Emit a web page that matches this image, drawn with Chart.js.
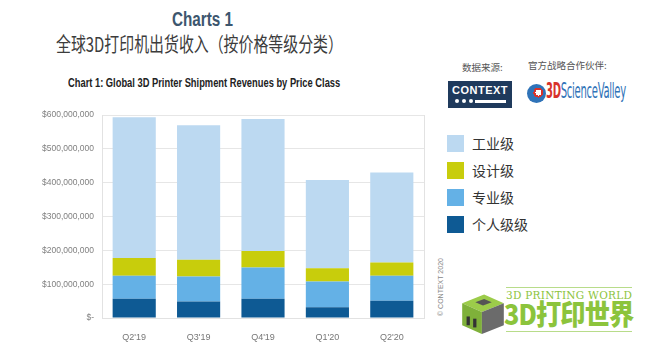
<!DOCTYPE html>
<html>
<head>
<meta charset="utf-8">
<script src="https://cdn.jsdelivr.net/npm/chart.js@4.4.0/dist/chart.umd.min.js"></script>
<style>
  html, body { margin: 0; padding: 0; background: #fff; }
  body { width: 655px; height: 352px; position: relative; overflow: hidden; font-family: "Liberation Sans", Arial, sans-serif; }
  .abs { position: absolute; white-space: nowrap; transform-origin: left top; }
  #title1 { left: 172px; top: 8px; font-size: 20px; font-weight: bold; color: #3d566e; }
  #title2 { left: 56px; top: 29px; font-size: 20px; color: #3c3c3c; font-family: "Noto Sans CJK SC", sans-serif; }
  #title3 { left: 68px; top: 75px; font-size: 13px; font-weight: bold; color: #222; }
  .small { font-size: 9.5px; color: #555; font-family: "Noto Sans CJK SC", sans-serif; }
  #ctx { left: 448px; top: 81px; width: 64px; height: 27px; background: #1f3a5c; color: #fff; font-weight: bold; font-size: 11px; text-align: center; }
  #ctx .word { position: absolute; left: 0; width: 64px; top: 3px; letter-spacing: 0.5px; }
  #ctx .dot { position: absolute; top: 18px; width: 4px; height: 4px; border-radius: 2px; background: #fff; }
  #ctx .bar { position: absolute; top: 19px; left: 27px; width: 31px; height: 3px; background: #fff; }
  #svIcon { left: 527px; top: 84px; width: 19px; height: 19px; border-radius: 50%; background: radial-gradient(circle at 60% 45%, #fff 0 3px, #d8322b 3px 5px, #2f73b8 5px); }
  #svText { left: 546px; top: 79px; font-size: 21px; font-family: "DejaVu Sans Condensed", "Liberation Sans Narrow", sans-serif; color: #2f73b8; letter-spacing: -0.5px; }
  #svText b { color: #d8322b; }
  #legend { left: 447px; top: 135px; font-family: "Noto Sans CJK SC", sans-serif; font-size: 14px; color: #333; }
  #legend .item { position: relative; height: 27px; }
  #legend .sw { position: absolute; left: 0; top: 0; width: 17px; height: 17px; }
  #legend .lb { position: absolute; left: 25px; top: -2px; }
  #copy { left: 437px; top: 316px; font-size: 7px; color: #888; transform: rotate(-90deg); }
  #cube { left: 460px; top: 288px; width: 46px; height: 46px; }
  #wm1 { left: 506px; top: 288px; font-family: "DejaVu Serif", "Liberation Serif", serif; font-size: 11.5px; color: #8cc43c; letter-spacing: 0.3px; }
  #wm2 { left: 504px; top: 297px; font-family: "Noto Sans CJK SC", sans-serif; font-weight: 900; font-size: 28px; color: #8cc43c; line-height: 32px; letter-spacing: -1px; }
  .wmline { height: 1px; background: #b8dc8a; }
  #chartBox { position: absolute; left: 0; top: 100px; width: 430px; height: 245px; }
</style>
</head>
<body>
<div id="title1" class="abs">Charts 1</div>
<div id="title2" class="abs">全球3D打印机出货收入（按价格等级分类）</div>
<div id="title3" class="abs">Chart 1: Global 3D Printer Shipment Revenues by Price Class</div>
<div class="abs small" style="left:462px;top:60px;">数据来源:</div>
<div class="abs small" style="left:528px;top:58px;">官方战略合作伙伴:</div>
<div id="ctx" class="abs"><div class="word">CONTEXT</div>
  <div class="dot" style="left:7px"></div><div class="dot" style="left:14px"></div><div class="dot" style="left:21px"></div><div class="bar"></div></div>
<div id="svIcon" class="abs"></div>
<div id="svText" class="abs"><b>3D</b>ScienceValley</div>
<div id="legend" class="abs"></div>
<div id="copy" class="abs">© CONTEXT 2020</div>
<svg id="cube" class="abs" viewBox="0 0 42 42">
  <polygon points="2,14 22,6 40,14 20,22" fill="#9ccc4a"/>
  <polygon points="2,14 20,22 20,42 2,34" fill="#7fb13a"/>
  <polygon points="20,22 40,14 40,34 20,42" fill="#6b6b6b"/>
  <polygon points="14,13 22,10 29,13 21,16" fill="#555"/>
  <rect x="6" y="26" width="3" height="8" fill="#333"/>
  <rect x="12" y="28" width="3" height="8" fill="#333"/>
</svg>
<div class="abs wmline" style="left:506px;top:287px;width:126px;"></div>
<div id="wm1" class="abs">3D PRINTING WORLD</div>
<div id="wm2" class="abs">3D打印世界</div>
<div class="abs wmline" style="left:506px;top:331px;width:126px;"></div>
<div id="chartBox"><canvas id="revChart"></canvas></div>
<script>
const quarters = ["Q2'19", "Q3'19", "Q4'19", "Q1'20", "Q2'20"];

// Revenue by price class, USD
const personal = [57000000, 49000000, 57000000, 32000000, 51000000];
const professional = [68000000, 74000000, 92000000, 76000000, 74000000];
const design = [52000000, 49000000, 49000000, 39000000, 39000000];
const industrial = [416000000, 398000000, 390000000, 261000000, 266000000];

const yTicks = [0, 100000000, 200000000, 300000000, 400000000, 500000000, 600000000];

const seriesNames = ["个人级级", "专业级", "设计级", "工业级"];
const seriesColors = ["#0e5a94", "#64b1e6", "#c8cd0c", "#bcd9f1"];

// the picture's text is horizontally condensed, so squeeze each line to its width
function squeeze(id, width) {
  const el = document.getElementById(id);
  el.style.transform = "scaleX(" + (width / el.offsetWidth) + ")";
}
squeeze("title1", 61);
squeeze("title2", 287);
squeeze("title3", 272);
squeeze("svText", 80);
squeeze("wm1", 126);
squeeze("wm2", 129);

// html legend, top to bottom is reverse of the stack
const legend = document.getElementById("legend");
for (let i = seriesNames.length - 1; i >= 0; i--) {
  const item = document.createElement("div");
  item.className = "item";
  item.innerHTML = '<div class="sw" style="background:' + seriesColors[i] + '"></div><div class="lb">' + seriesNames[i] + "</div>";
  legend.appendChild(item);
}

const ctx = document.getElementById("revChart").getContext("2d");
const values = [personal, professional, design, industrial];

new Chart(ctx, {
  type: "bar",
  data: {
    labels: quarters,
    datasets: values.map((d, i) => ({
      label: seriesNames[i],
      data: d,
      backgroundColor: seriesColors[i],
      borderWidth: 0,
      barPercentage: 0.67,
      categoryPercentage: 1,
    })),
  },
  options: {
    responsive: true,
    maintainAspectRatio: false,
    animation: false,
    layout: { padding: { top: 15, right: 6, left: 0, bottom: 0 } },
    plugins: {
      legend: { display: false },
      tooltip: { enabled: false },
    },
    scales: {
      x: {
        stacked: true,
        grid: { display: false },
        border: { color: "#e2e2e2" },
        ticks: { color: "#777", font: { size: 9, family: "Liberation Sans" }, padding: 6 },
        afterFit: (scale) => { scale.height = 27; },
      },
      y: {
        stacked: true,
        min: 0,
        max: 600000000,
        afterBuildTicks: (scale) => { scale.ticks = yTicks.map((v) => ({ value: v })); },
        grid: { color: "#e6e6e6", drawTicks: false },
        border: { color: "#e2e2e2" },
        ticks: {
          color: "#808080",
          font: { size: 8.5, family: "Liberation Sans" },
          padding: 8,
          callback: (v) => (v === 0 ? "$-" : "$" + v.toLocaleString("en-US")),
        },
        afterFit: (scale) => { scale.width = 102; },
      },
      y2: {
        position: "right",
        min: 0,
        max: 600000000,
        grid: { display: false },
        border: { color: "#e2e2e2" },
        ticks: { display: false },
        afterFit: (scale) => { scale.width = 0; },
      },
    },
  },
});
</script>
</body>
</html>
